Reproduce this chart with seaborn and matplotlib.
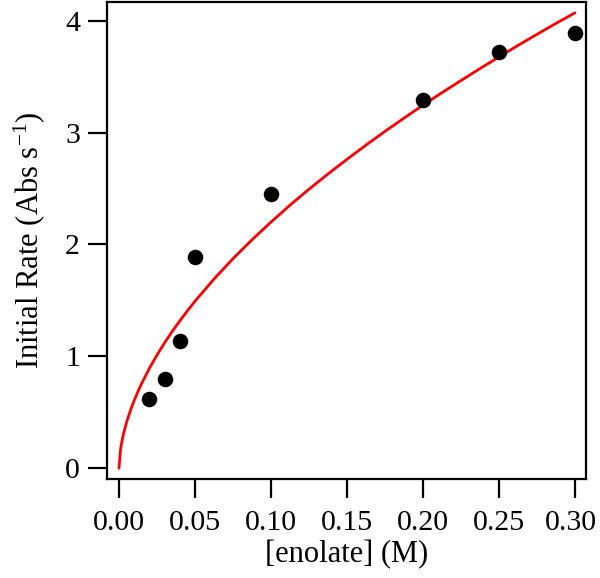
import matplotlib
matplotlib.use("Agg")
import matplotlib.pyplot as plt
import matplotlib.transforms as mtransforms
import seaborn as sns
import pandas as pd

# measured points
enolate = [0.02, 0.03, 0.04, 0.05, 0.10, 0.20, 0.25, 0.30]
rate = [0.62, 0.80, 1.14, 1.89, 2.45, 3.29, 3.72, 3.89]

# fitted curve
fit_x = [0.0, 0.001, 0.0015, 0.0025, 0.0035, 0.005, 0.0075, 0.01, 0.0125, 0.015,
         0.02, 0.025, 0.03, 0.035, 0.04, 0.045, 0.05, 0.0625, 0.075, 0.0875,
         0.10, 0.1125, 0.125, 0.1375, 0.15, 0.1625, 0.175, 0.1875, 0.20, 0.2125,
         0.225, 0.2375, 0.25, 0.2625, 0.275, 0.2875, 0.30]
fit_y = [0.0, 0.167, 0.210, 0.279, 0.337, 0.412, 0.516, 0.606, 0.687, 0.760,
         0.893, 1.012, 1.121, 1.223, 1.317, 1.407, 1.493, 1.691, 1.873, 2.042,
         2.200, 2.351, 2.494, 2.630, 2.761, 2.888, 3.011, 3.129, 3.245, 3.357,
         3.465, 3.572, 3.676, 3.779, 3.878, 3.976, 4.070]

x_ticks = [0.00, 0.05, 0.10, 0.15, 0.20, 0.25, 0.30]
x_ticklabels = ["0.00", "0.05", "0.10", "0.15", "0.20", "0.25", "0.30"]
y_ticks = [0, 1, 2, 3, 4]

sns.set_theme(style="ticks")
plt.rcParams["font.family"] = ["Liberation Serif", "DejaVu Serif"]
plt.rcParams["mathtext.fontset"] = "custom"
plt.rcParams["mathtext.rm"] = "Liberation Serif"
plt.rcParams["mathtext.it"] = "Liberation Serif:italic"
plt.rcParams["text.color"] = "black"
plt.rcParams["axes.labelcolor"] = "black"

df_pts = pd.DataFrame({"enolate": enolate, "rate": rate})
df_fit = pd.DataFrame({"x": fit_x, "y": fit_y})

fig = plt.figure(figsize=(6.0, 5.78), dpi=100)
ax = fig.add_axes([0.1783, 0.1713, 0.7983, 0.8253])

sns.lineplot(data=df_fit, x="x", y="y", ax=ax, color="red", linewidth=2.0,
             sort=False, estimator=None)
sns.scatterplot(data=df_pts, x="enolate", y="rate", ax=ax, color="black",
                s=125, linewidth=0, zorder=3)

ax.set_xlim(-0.0079, 0.3072)
ax.set_ylim(-0.096, 4.167)
ax.set_xticks(x_ticks)
ax.set_xticklabels(x_ticklabels)
ax.set_yticks(y_ticks)

for sp in ax.spines.values():
    sp.set_linewidth(1.6)
    sp.set_color("black")

ax.tick_params(direction="out", length=13.5, width=1.6, colors="black",
               labelcolor="black", labelsize=21.5, pad=6)
ax.tick_params(axis="x", pad=9)

# nudge the last x label so it stays inside the figure
last = ax.get_xticklabels()[-1]
last.set_transform(last.get_transform() +
                   mtransforms.ScaledTranslation(-4 / 100, 0, fig.dpi_scale_trans))

ax.set_xlabel("[enolate] (M)", fontsize=22, labelpad=3)
ax.set_ylabel(r"Initial Rate (Abs s$^{\mathrm{-1}}$)", fontsize=22, labelpad=13)

fig.savefig("out.png", dpi=100)
